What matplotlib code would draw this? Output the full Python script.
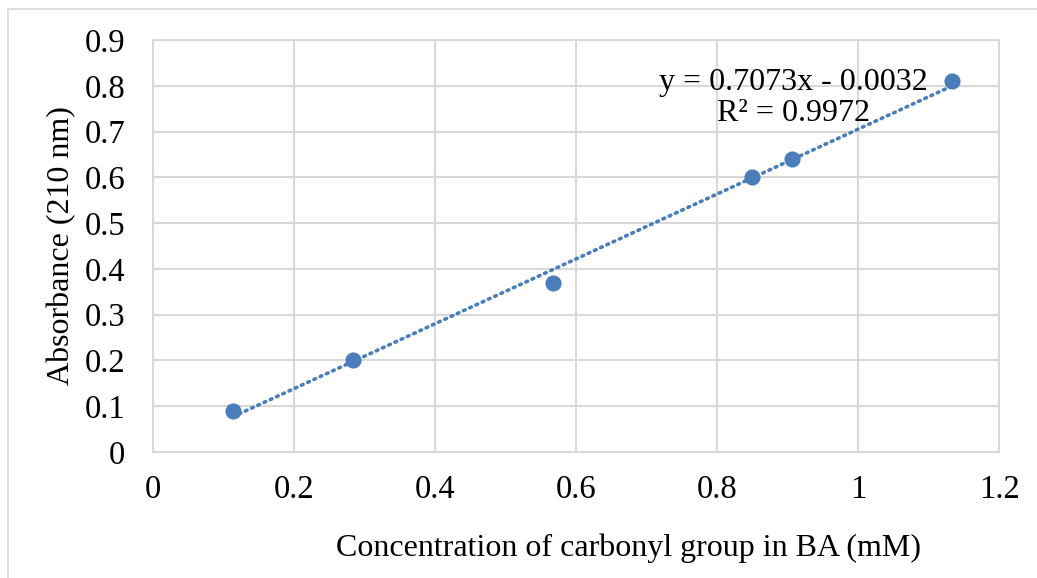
import numpy as np
import matplotlib
matplotlib.use("Agg")
import matplotlib.pyplot as plt
from matplotlib.patches import Rectangle

# data
conc = [0.1133, 0.2833, 0.5667, 0.85, 0.9067, 1.1333]
absorb = [0.09, 0.20, 0.37, 0.60, 0.64, 0.81]
eq_text = "y = 0.7073x - 0.0032\nR\u00b2 = 0.9972"
x_ticks = [0, 0.2, 0.4, 0.6, 0.8, 1, 1.2]
y_ticks = [0, 0.1, 0.2, 0.3, 0.4, 0.5, 0.6, 0.7, 0.8, 0.9]

plt.rcParams['font.family'] = ['Liberation Serif', 'DejaVu Serif']
blue = '#4a7ebb'
grid = '#d9d9d9'

fig = plt.figure(figsize=(10.37, 5.78), dpi=100)
ax = fig.add_axes([153/1037, 1 - 452/578, (999-153)/1037, (452-40)/578])

# outer chart border (runs off the right and bottom edge)
fig.patches.append(Rectangle((8/1037, -0.1), 1.2, 1 - 9/578 + 0.1,
                             transform=fig.transFigure, fill=False,
                             edgecolor=grid, linewidth=1.2))

# linear trendline over the data range
k, b = np.polyfit(conc, absorb, 1)
xs = np.array([min(conc), max(conc)])
ax.plot(xs, k * xs + b, color=blue, linewidth=2.6,
        linestyle=(0, (0.5, 1.4)), dash_capstyle='round', zorder=2)
ax.scatter(conc, absorb, s=135, color=blue, zorder=3, linewidths=0)

ax.set_xlim(0, 1.2)
ax.set_ylim(0, 0.9)
ax.set_xticks(x_ticks)
ax.set_xticklabels([f"{v:g}" for v in x_ticks])
ax.set_yticks(y_ticks)
ax.set_yticklabels([f"{v:g}" for v in y_ticks])
ax.grid(True, color=grid, linewidth=1.5)
ax.set_axisbelow(True)
for s in ax.spines.values():
    s.set_color(grid)
    s.set_linewidth(1.5)
ax.tick_params(length=0, labelsize=23.5, colors='black')
ax.tick_params(axis='y', pad=20)
ax.tick_params(axis='x', pad=16)

ax.set_xlabel("Concentration of carbonyl group in BA (mM)", fontsize=23)
ax.xaxis.set_label_coords((629-153)/(999-153), -(548-452)/(452-40))
ax.xaxis.label.set_va('center')
ax.set_ylabel("Absorbance (210 nm)", fontsize=23)
ax.yaxis.set_label_coords(-(153-62)/(999-153), 0.5)
ax.yaxis.label.set_va('center')

ax.text(0.908, 0.773, eq_text, fontsize=23, ha='center', va='center',
        multialignment='center', linespacing=1.1, zorder=4)

fig.savefig("out.png", dpi=100)
